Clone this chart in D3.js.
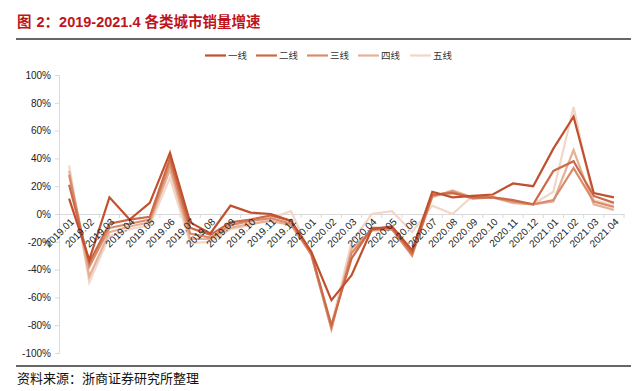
<!DOCTYPE html>
<html>
<head>
<meta charset="utf-8">
<script src="https://cdn.jsdelivr.net/npm/d3@7"></script>
<style>
  body { margin: 0; background: #fff; }
  svg { display: block; }
</style>
</head>
<body>
<div id="chart"></div>
<script>
// ---- Data ----
const months = [
  '2019.01','2019.02','2019.03','2019.04','2019.05','2019.06','2019.07','2019.08','2019.09','2019.10','2019.11','2019.12',
  '2020.01','2020.02','2020.03','2020.04','2020.05','2020.06','2020.07','2020.08','2020.09','2020.10','2020.11','2020.12',
  '2021.01','2021.02','2021.03','2021.04'
];
const seriesNames = ['一线', '二线', '三线', '四线', '五线'];
const tier1 = [11, -33, 12, -4, 8, 44, -6, -14, 6, 1, 0, -5, -27, -62, -44, -11, -9, -26, 16, 12, 13, 14, 22, 20, 47, 70, 15, 12];
const tier2 = [21, -35, -7, -4, -2, 40, -10, -15, -6, -4, -1, -5, -28, -80, -32, -10, -10, -28, 14, 15, 12, 12, 10, 7, 31, 38, 13, 8];
const tier3 = [28, -38, -10, -7, -4, 36, -14, -17, -8, -5, -3, -7, -29, -82, -28, -11, -11, -30, 13, 16, 11, 12, 9, 7, 10, 33, 9, 5];
const tier4 = [31, -45, -13, -9, -6, 32, -18, -18, -10, -7, -5, -8, -29, -83, -25, -12, -11, -28, 12, 17, 12, 12, 8, 7, 9, 46, 7, 3];
const tier5 = [35, -49, -16, -11, -8, 26, -21, -20, -11, -8, -3, 2, -30, -80, -20, 0, 2, -13, 6, 0, 13, 12, 8, 7, 16, 77, 10, 6];
const yTicks = [-100, -80, -60, -40, -20, 0, 20, 40, 60, 80, 100];
const colors = ['#c0502e', '#cc6a48', '#d98c6c', '#e6b096', '#f2d6c7'];

// ---- Layout ----
const W = 635, H = 391;
const plot = { left: 59, right: 624, top: 75, bottom: 353 };

const svg = d3.select('#chart').append('svg')
  .attr('width', W).attr('height', H);

const cjk = '"Noto Sans CJK SC", "Noto Sans", sans-serif';
const latin = '"Liberation Sans", Arial, sans-serif';

// Title + rules
const title = svg.append('text')
  .attr('x', 17).attr('y', 27)
  .attr('fill', '#c0141c')
  .style('font-family', `"Liberation Sans", Arial, ${cjk}`)
  .style('font-weight', 700)
  .style('font-size', '14.5px');
title.append('tspan').text('图');
title.append('tspan').attr('dx', 5).text('2：2019-2021.4 各类城市销量增速');

svg.append('line').attr('x1', 16).attr('x2', 631).attr('y1', 39).attr('y2', 39)
  .attr('stroke', '#333').attr('stroke-width', 1.6);
svg.append('line').attr('x1', 16).attr('x2', 631).attr('y1', 366).attr('y2', 366)
  .attr('stroke', '#333').attr('stroke-width', 1.4);

svg.append('text')
  .attr('x', 17).attr('y', 383)
  .attr('fill', '#111')
  .style('font-family', cjk)
  .style('font-size', '13px')
  .text('资料来源：浙商证券研究所整理');

// Scales
const x = d3.scaleBand().domain(months).range([plot.left, plot.right]);
const xc = d => x(d) + x.bandwidth() / 2;
const y = d3.scaleLinear().domain([-100, 100]).range([plot.bottom, plot.top]);

// Y axis
const yAxis = svg.append('g')
  .attr('transform', `translate(${plot.left},0)`)
  .call(d3.axisLeft(y).tickValues(yTicks).tickFormat(d => d + '%').tickSize(4).tickPadding(4));
yAxis.select('.domain').attr('stroke', '#d9d9d9');
yAxis.selectAll('.tick line').attr('stroke', '#d9d9d9');
yAxis.selectAll('.tick text')
  .attr('fill', '#222')
  .style('font-family', latin)
  .style('font-size', '10px');

// Zero line with band ticks
const xAxis = svg.append('g')
  .attr('transform', `translate(0,${y(0)})`)
  .call(d3.axisBottom(x).tickSize(0).tickFormat(''));
xAxis.select('.domain').attr('stroke', '#d9d9d9');
svg.append('g').selectAll('line').data(months).join('line')
  .attr('x1', d => x(d) + x.bandwidth()).attr('x2', d => x(d) + x.bandwidth())
  .attr('y1', y(0)).attr('y2', y(0) + 4)
  .attr('stroke', '#d9d9d9');

// Lines
const allSeries = [tier1, tier2, tier3, tier4, tier5];
const line = d3.line().x((d, i) => xc(months[i])).y(d => y(d));
const gLines = svg.append('g');
for (let s = allSeries.length - 1; s >= 0; s--) {
  gLines.append('path')
    .datum(allSeries[s])
    .attr('d', line)
    .attr('fill', 'none')
    .attr('stroke', colors[s])
    .attr('stroke-width', 2.2)
    .attr('stroke-linejoin', 'miter');
}

// X labels (drawn over lines)
svg.append('g').selectAll('text').data(months).join('text')
  .attr('transform', d => `translate(${xc(d) + 3},${y(0) + 6}) rotate(-45)`)
  .attr('text-anchor', 'end')
  .attr('dy', '0.35em')
  .attr('fill', '#222')
  .style('font-family', latin)
  .style('font-size', '10px')
  .text(d => d);

// Legend
const legendX = [205, 256, 307, 358, 410];
const legend = svg.append('g');
seriesNames.forEach((name, i) => {
  legend.append('line')
    .attr('x1', legendX[i]).attr('x2', legendX[i] + 21)
    .attr('y1', 55.5).attr('y2', 55.5)
    .attr('stroke', colors[i]).attr('stroke-width', 2.2);
  legend.append('text')
    .attr('x', legendX[i] + 23).attr('y', 59)
    .attr('fill', '#333')
    .style('font-family', cjk)
    .style('font-size', '9.5px')
    .text(name);
});
</script>
</body>
</html>
